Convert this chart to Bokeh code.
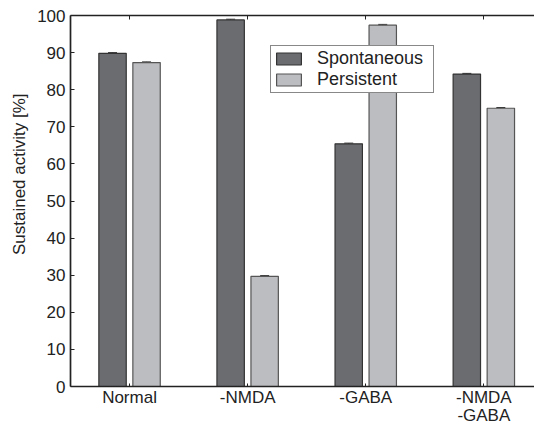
from bokeh.plotting import figure
from bokeh.models import (ColumnDataSource, FixedTicker, LinearAxis, Legend,
                          LegendItem, Title, Range1d, Whisker)
from bokeh.embed import file_html
from bokeh.resources import INLINE

# Sustained activity per condition, two stimulus types
categories = ["Normal", "-NMDA", "-GABA", "-NMDA\n-GABA"]
spontaneous = [89.8, 98.8, 65.4, 84.2]
persistent = [87.3, 29.7, 97.4, 75.0]
spontaneous_err = [0.2, 0.2, 0.2, 0.2]
persistent_err = [0.2, 0.2, 0.2, 0.2]
y_ticks = [0, 10, 20, 30, 40, 50, 60, 70, 80, 90, 100]

FONT = "Liberation Sans"
DARK = "#6b6c70"
LIGHT = "#bcbdc1"
INK = "#222222"

positions = list(range(1, len(categories) + 1))
offset = 0.144
bar_w = 0.232

src_s = ColumnDataSource(dict(
    x=[p - offset for p in positions], top=spontaneous,
    lo=[v - e for v, e in zip(spontaneous, spontaneous_err)],
    hi=[v + e for v, e in zip(spontaneous, spontaneous_err)],
))
src_p = ColumnDataSource(dict(
    x=[p + offset for p in positions], top=persistent,
    lo=[v - e for v, e in zip(persistent, persistent_err)],
    hi=[v + e for v, e in zip(persistent, persistent_err)],
))

p = figure(width=534, height=427, output_backend="svg", toolbar_location=None,
           x_range=Range1d(0.5, 4.429), y_range=Range1d(0, 100),
           min_border_left=70, min_border_right=0, min_border_top=15,
           min_border_bottom=40)
p.outline_line_color = None
p.xgrid.visible = False
p.ygrid.visible = False
p.background_fill_color = "white"
p.border_fill_color = "white"

r_s = p.vbar(x="x", top="top", width=bar_w, source=src_s, fill_color=DARK,
             line_color="#333333", line_width=1.2)
r_p = p.vbar(x="x", top="top", width=bar_w, source=src_p, fill_color=LIGHT,
             line_color="#555555", line_width=1.2)

for src in (src_s, src_p):
    w = Whisker(base="x", lower="lo", upper="hi", source=src,
                line_color="#333333", line_width=1)
    w.upper_head.size = 9
    w.lower_head.size = 9
    w.upper_head.line_color = "#333333"
    w.lower_head.line_color = "#333333"
    p.add_layout(w)

# bottom axis with condition names
xa = p.xaxis[0]
xa.ticker = FixedTicker(ticks=positions)
xa.major_label_overrides = {pos: lab for pos, lab in zip(positions, categories)}
xa.major_tick_in = 3
xa.major_tick_out = 0
xa.minor_tick_line_color = None
xa.axis_line_width = 1.7
xa.axis_line_color = INK
xa.major_tick_line_color = INK
xa.major_label_text_font = FONT
xa.major_label_text_font_size = "17px"
xa.major_label_text_line_height = 0.95
xa.major_label_text_color = INK
xa.major_label_standoff = 1

ya = p.yaxis[0]
ya.ticker = FixedTicker(ticks=y_ticks)
ya.major_tick_in = 4
ya.major_tick_out = 0
ya.minor_tick_line_color = None
ya.axis_line_width = 1.7
ya.axis_line_color = INK
ya.major_tick_line_color = INK
ya.major_label_text_font = FONT
ya.major_label_text_font_size = "17px"
ya.major_label_text_color = INK
ya.major_label_standoff = 5

# top frame line with inward ticks, no labels
top = LinearAxis(ticker=FixedTicker(ticks=positions))
top.major_label_overrides = {pos: "" for pos in positions}
top.major_tick_in = 4
top.major_tick_out = 0
top.minor_tick_line_color = None
top.axis_line_width = 1.7
top.axis_line_color = INK
top.major_tick_line_color = INK
top.major_label_standoff = 0
p.add_layout(top, "above")

# y-axis title, set toward the upper part of the axis
ytitle = Title(text="Sustained activity [%]", align="right", offset=78,
               vertical_align="middle", standoff=10,
               text_font=FONT, text_font_size="17px", text_color=INK,
               text_font_style="normal")
p.add_layout(ytitle, "left")

legend = Legend(items=[LegendItem(label="Spontaneous", renderers=[r_s]),
                       LegendItem(label="Persistent", renderers=[r_p])],
                location=(200, 293))
legend.label_text_font = FONT
legend.label_text_font_size = "18px"
legend.label_text_line_height = 1.0
legend.label_text_color = INK
legend.glyph_width = 31
legend.glyph_height = 15
legend.label_height = 19
legend.label_width = 114
legend.spacing = 0
legend.padding = 2
legend.margin = 0
legend.label_standoff = 13
legend.border_line_color = "#111111"
legend.border_line_width = 1
legend.background_fill_alpha = 1
p.add_layout(legend)

open("out.html", "w").write(file_html(p, INLINE))
